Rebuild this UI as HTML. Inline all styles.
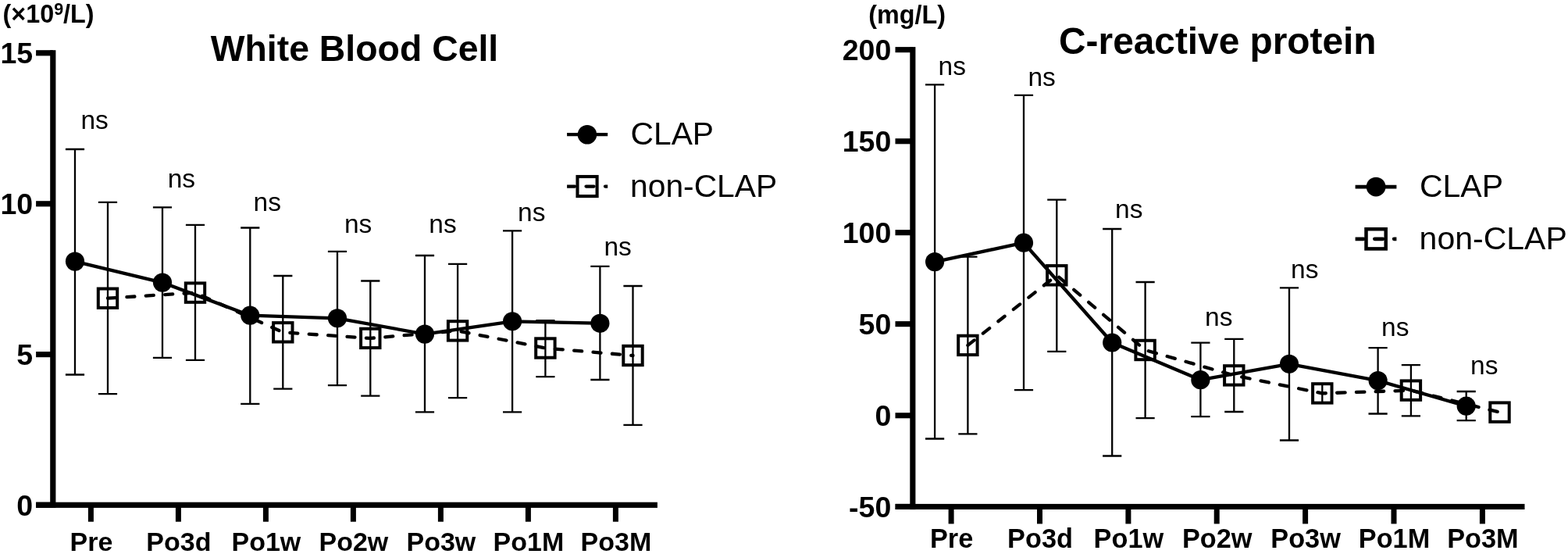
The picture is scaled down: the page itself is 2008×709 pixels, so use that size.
<!DOCTYPE html>
<html><head><meta charset="utf-8"><title>White Blood Cell and C-reactive protein</title>
<style>html,body{margin:0;padding:0;background:#fff;width:2008px;height:709px;overflow:hidden}svg{display:block}</style>
</head><body>
<svg width="2008" height="709" viewBox="0 0 2008 709" font-family='"Liberation Sans", Arial, sans-serif' fill="#000">
<rect width="2008" height="709" fill="#fff"/>
<rect x="64.2" y="64.2" width="7.2" height="585.7"/>
<rect x="46.1" y="642.7" width="795.8" height="7.2"/>
<rect x="46.1" y="64.2" width="21.7" height="7.2"/>
<text x="42.2" y="81.2" font-size="37.5" font-weight="bold" text-anchor="end">15</text>
<rect x="46.1" y="257.2" width="21.7" height="7.2"/>
<text x="42.2" y="274.2" font-size="37.5" font-weight="bold" text-anchor="end">10</text>
<rect x="46.1" y="450.0" width="21.7" height="7.2"/>
<text x="42.2" y="467.0" font-size="37.5" font-weight="bold" text-anchor="end">5</text>
<rect x="46.1" y="642.7" width="21.7" height="7.2"/>
<text x="42.2" y="659.7" font-size="37.5" font-weight="bold" text-anchor="end">0</text>
<rect x="112.9" y="646.3" width="7.0" height="21.4"/>
<text x="116.9" y="704.6" font-size="34" font-weight="bold" text-anchor="middle">Pre</text>
<rect x="224.9" y="646.3" width="7.0" height="21.4"/>
<text x="228.9" y="704.6" font-size="34" font-weight="bold" text-anchor="middle">Po3d</text>
<rect x="336.9" y="646.3" width="7.0" height="21.4"/>
<text x="340.9" y="704.6" font-size="34" font-weight="bold" text-anchor="middle">Po1w</text>
<rect x="448.9" y="646.3" width="7.0" height="21.4"/>
<text x="452.9" y="704.6" font-size="34" font-weight="bold" text-anchor="middle">Po2w</text>
<rect x="560.9" y="646.3" width="7.0" height="21.4"/>
<text x="564.9" y="704.6" font-size="34" font-weight="bold" text-anchor="middle">Po3w</text>
<rect x="672.9" y="646.3" width="7.0" height="21.4"/>
<text x="676.9" y="704.6" font-size="34" font-weight="bold" text-anchor="middle">Po1M</text>
<rect x="784.9" y="646.3" width="7.0" height="21.4"/>
<text x="788.9" y="704.6" font-size="34" font-weight="bold" text-anchor="middle">Po3M</text>
<g stroke="#000" stroke-width="2.3" fill="none">
<path d="M96.0 191.0V479.5M83.9 191.0H108.1M83.9 479.5H108.1"/>
<path d="M208.0 265.4V457.9M195.9 265.4H220.1M195.9 457.9H220.1"/>
<path d="M320.3 291.5V516.9M308.2 291.5H332.4M308.2 516.9H332.4"/>
<path d="M432.0 321.9V493.1M419.9 321.9H444.1M419.9 493.1H444.1"/>
<path d="M544.0 327.0V527.3M531.9 327.0H556.1M531.9 527.3H556.1"/>
<path d="M656.1 295.4V527.3M644.0 295.4H668.2M644.0 527.3H668.2"/>
<path d="M768.4 340.9V486.0M756.3 340.9H780.5M756.3 486.0H780.5"/>
<path d="M138.0 258.9V504.2M125.9 258.9H150.1M125.9 504.2H150.1"/>
<path d="M250.0 287.9V460.8M237.9 287.9H262.1M237.9 460.8H262.1"/>
<path d="M362.3 353.0V497.7M350.2 353.0H374.4M350.2 497.7H374.4"/>
<path d="M474.3 359.5V506.7M462.2 359.5H486.4M462.2 506.7H486.4"/>
<path d="M586.1 337.8V509.2M574.0 337.8H598.2M574.0 509.2H598.2"/>
<path d="M698.4 410.1V482.2M686.3 410.1H710.5M686.3 482.2H710.5"/>
<path d="M810.5 366.0V543.8M798.4 366.0H822.6M798.4 543.8H822.6"/>
</g>
<path d="M138.0 381.7L250.0 374.6L362.3 425.3L474.3 432.9L586.1 423.4L698.4 445.5L810.5 455.0" stroke="#000" stroke-width="4.3" fill="none" stroke-dasharray="10 14.45" stroke-linecap="round" stroke-linejoin="round"/>
<path d="M96.0 334.6L208.0 361.6L320.3 403.7L432.0 407.3L544.0 427.6L656.1 411.3L768.4 413.8" stroke="#000" stroke-width="4.3" fill="none" stroke-linejoin="round"/>
<rect x="125.8" y="369.5" width="24.4" height="24.4" fill="none" stroke="#000" stroke-width="4.0"/>
<rect x="237.8" y="362.4" width="24.4" height="24.4" fill="none" stroke="#000" stroke-width="4.0"/>
<rect x="350.1" y="413.1" width="24.4" height="24.4" fill="none" stroke="#000" stroke-width="4.0"/>
<rect x="462.1" y="420.7" width="24.4" height="24.4" fill="none" stroke="#000" stroke-width="4.0"/>
<rect x="573.9" y="411.2" width="24.4" height="24.4" fill="none" stroke="#000" stroke-width="4.0"/>
<rect x="686.2" y="433.3" width="24.4" height="24.4" fill="none" stroke="#000" stroke-width="4.0"/>
<rect x="798.3" y="442.8" width="24.4" height="24.4" fill="none" stroke="#000" stroke-width="4.0"/>
<circle cx="96.0" cy="334.6" r="12.1"/>
<circle cx="208.0" cy="361.6" r="12.1"/>
<circle cx="320.3" cy="403.7" r="12.1"/>
<circle cx="432.0" cy="407.3" r="12.1"/>
<circle cx="544.0" cy="427.6" r="12.1"/>
<circle cx="656.1" cy="411.3" r="12.1"/>
<circle cx="768.4" cy="413.8" r="12.1"/>
<text x="103.4" y="165.0" font-size="33.5">ns</text>
<text x="214.7" y="239.8" font-size="33.5">ns</text>
<text x="324.6" y="270.0" font-size="33.5">ns</text>
<text x="440.9" y="298.3" font-size="33.5">ns</text>
<text x="549.3" y="298.3" font-size="33.5">ns</text>
<text x="663.0" y="282.7" font-size="33.5">ns</text>
<text x="773.4" y="326.7" font-size="33.5">ns</text>
<path d="M726.1 172.2H778.2" stroke="#000" stroke-width="4.3"/>
<circle cx="752.0" cy="172.2" r="12.3"/>
<clipPath id="cl1"><rect x="726.1" y="228.6" width="52.1" height="20"/></clipPath>
<path clip-path="url(#cl1)" d="M726.1 238.6H781.2" stroke="#000" stroke-width="4.3" stroke-dasharray="10 14.45" stroke-linecap="round"/>
<rect x="739.5" y="226.0" width="25.1" height="25.1" fill="none" stroke="#000" stroke-width="4.1"/>
<text x="807.5" y="185.4" font-size="40.8">CLAP</text>
<text x="807.0" y="251.8" font-size="40.8">non-CLAP</text>
<text x="269.7" y="78.0" font-size="46.4" font-weight="bold">White Blood Cell</text>
<rect x="1165.3" y="60.1" width="7.1" height="592.0"/>
<rect x="1146.7" y="644.9" width="805.8" height="7.1"/>
<rect x="1146.5" y="60.1" width="22.3" height="7.1"/>
<text x="1141.3" y="76.9" font-size="37.5" font-weight="bold" text-anchor="end">200</text>
<rect x="1146.5" y="177.2" width="22.3" height="7.1"/>
<text x="1141.3" y="194.1" font-size="37.5" font-weight="bold" text-anchor="end">150</text>
<rect x="1146.5" y="294.1" width="22.3" height="7.1"/>
<text x="1141.3" y="311.0" font-size="37.5" font-weight="bold" text-anchor="end">100</text>
<rect x="1146.5" y="411.1" width="22.3" height="7.1"/>
<text x="1141.3" y="427.9" font-size="37.5" font-weight="bold" text-anchor="end">50</text>
<rect x="1146.5" y="528.2" width="22.3" height="7.1"/>
<text x="1141.3" y="545.0" font-size="37.5" font-weight="bold" text-anchor="end">0</text>
<rect x="1146.5" y="644.9" width="22.3" height="7.1"/>
<text x="1141.3" y="661.8" font-size="37.5" font-weight="bold" text-anchor="end">-50</text>
<rect x="1214.6" y="648.5" width="7.0" height="21.9"/>
<text x="1218.6" y="701.3" font-size="34.3" font-weight="bold" text-anchor="middle">Pre</text>
<rect x="1328.0" y="648.5" width="7.0" height="21.9"/>
<text x="1332.0" y="701.3" font-size="34.3" font-weight="bold" text-anchor="middle">Po3d</text>
<rect x="1441.4" y="648.5" width="7.0" height="21.9"/>
<text x="1445.4" y="701.3" font-size="34.3" font-weight="bold" text-anchor="middle">Po1w</text>
<rect x="1554.7" y="648.5" width="7.0" height="21.9"/>
<text x="1558.7" y="701.3" font-size="34.3" font-weight="bold" text-anchor="middle">Po2w</text>
<rect x="1668.1" y="648.5" width="7.0" height="21.9"/>
<text x="1672.1" y="701.3" font-size="34.3" font-weight="bold" text-anchor="middle">Po3w</text>
<rect x="1781.5" y="648.5" width="7.0" height="21.9"/>
<text x="1785.5" y="701.3" font-size="34.3" font-weight="bold" text-anchor="middle">Po1M</text>
<rect x="1894.9" y="648.5" width="7.0" height="21.9"/>
<text x="1898.9" y="701.3" font-size="34.3" font-weight="bold" text-anchor="middle">Po3M</text>
<g stroke="#000" stroke-width="2.3" fill="none">
<path d="M1197.1 108.3V561.5M1185.0 108.3H1209.2M1185.0 561.5H1209.2"/>
<path d="M1311.0 121.8V499.1M1298.9 121.8H1323.1M1298.9 499.1H1323.1"/>
<path d="M1424.2 293.0V583.5M1412.1 293.0H1436.3M1412.1 583.5H1436.3"/>
<path d="M1537.4 438.6V533.1M1525.3 438.6H1549.5M1525.3 533.1H1549.5"/>
<path d="M1651.0 368.3V563.5M1638.9 368.3H1663.1M1638.9 563.5H1663.1"/>
<path d="M1764.6 445.1V529.5M1752.5 445.1H1776.7M1752.5 529.5H1776.7"/>
<path d="M1877.7 501.0V538.1M1865.6 501.0H1889.8M1865.6 538.1H1889.8"/>
<path d="M1239.4 328.6V555.4M1227.3 328.6H1251.5M1227.3 555.4H1251.5"/>
<path d="M1353.3 255.7V449.8M1341.2 255.7H1365.4M1341.2 449.8H1365.4"/>
<path d="M1466.6 361.0V535.1M1454.5 361.0H1478.7M1454.5 535.1H1478.7"/>
<path d="M1580.3 433.9V527.0M1568.2 433.9H1592.4M1568.2 527.0H1592.4"/>
<path d="M1693.3 491.5V515.5M1681.2 491.5H1705.4M1681.2 515.5H1705.4"/>
<path d="M1806.9 467.1V532.3M1794.8 467.1H1819.0M1794.8 532.3H1819.0"/>
</g>
<path d="M1239.4 441.9L1353.3 352.3L1466.6 448.0L1580.3 480.4L1693.3 503.4L1806.9 499.6L1920.5 527.6" stroke="#000" stroke-width="4.3" fill="none" stroke-dasharray="10.5 14.3" stroke-linecap="round" stroke-linejoin="round"/>
<path d="M1197.1 335.1L1311.0 310.7L1424.2 438.5L1537.4 486.2L1651.0 465.8L1764.6 487.1L1877.7 519.7" stroke="#000" stroke-width="4.3" fill="none" stroke-linejoin="round"/>
<rect x="1227.2" y="429.7" width="24.4" height="24.4" fill="none" stroke="#000" stroke-width="4.0"/>
<rect x="1341.1" y="340.1" width="24.4" height="24.4" fill="none" stroke="#000" stroke-width="4.0"/>
<rect x="1454.4" y="435.8" width="24.4" height="24.4" fill="none" stroke="#000" stroke-width="4.0"/>
<rect x="1568.1" y="468.2" width="24.4" height="24.4" fill="none" stroke="#000" stroke-width="4.0"/>
<rect x="1681.1" y="491.2" width="24.4" height="24.4" fill="none" stroke="#000" stroke-width="4.0"/>
<rect x="1794.7" y="487.4" width="24.4" height="24.4" fill="none" stroke="#000" stroke-width="4.0"/>
<rect x="1908.3" y="515.4" width="24.4" height="24.4" fill="none" stroke="#000" stroke-width="4.0"/>
<circle cx="1197.1" cy="335.1" r="12.1"/>
<circle cx="1311.0" cy="310.7" r="12.1"/>
<circle cx="1424.2" cy="438.5" r="12.1"/>
<circle cx="1537.4" cy="486.2" r="12.1"/>
<circle cx="1651.0" cy="465.8" r="12.1"/>
<circle cx="1764.6" cy="487.1" r="12.1"/>
<circle cx="1877.7" cy="519.7" r="12.1"/>
<text x="1201.6" y="95.9" font-size="33.5">ns</text>
<text x="1316.4" y="110.0" font-size="33.5">ns</text>
<text x="1428.1" y="279.2" font-size="33.5">ns</text>
<text x="1543.1" y="417.1" font-size="33.5">ns</text>
<text x="1653.1" y="355.6" font-size="33.5">ns</text>
<text x="1769.1" y="429.7" font-size="33.5">ns</text>
<text x="1883.0" y="478.6" font-size="33.5">ns</text>
<path d="M1735.6 239.1H1788.4" stroke="#000" stroke-width="4.8"/>
<circle cx="1762.1" cy="239.1" r="12.4"/>
<clipPath id="cl2"><rect x="1735.6" y="295.8" width="52.8" height="20"/></clipPath>
<path clip-path="url(#cl2)" d="M1735.6 305.8H1791.4" stroke="#000" stroke-width="4.8" stroke-dasharray="10.5 14.3" stroke-linecap="round"/>
<rect x="1749.5" y="293.2" width="25.2" height="25.2" fill="none" stroke="#000" stroke-width="4.5"/>
<text x="1817.9" y="252.2" font-size="41.0">CLAP</text>
<text x="1817.6" y="318.9" font-size="41.0">non-CLAP</text>
<text x="1356.1" y="69.2" font-size="47.8" font-weight="bold">C-reactive protein</text>
<text x="3.6" y="29.4" font-size="32.3" font-weight="bold">(×10<tspan font-size="21.5" dy="-10.8">9</tspan><tspan dy="10.8">/L)</tspan></text>
<text x="1112.3" y="30.4" font-size="32.3" font-weight="bold">(mg/L)</text>
</svg></body></html>
